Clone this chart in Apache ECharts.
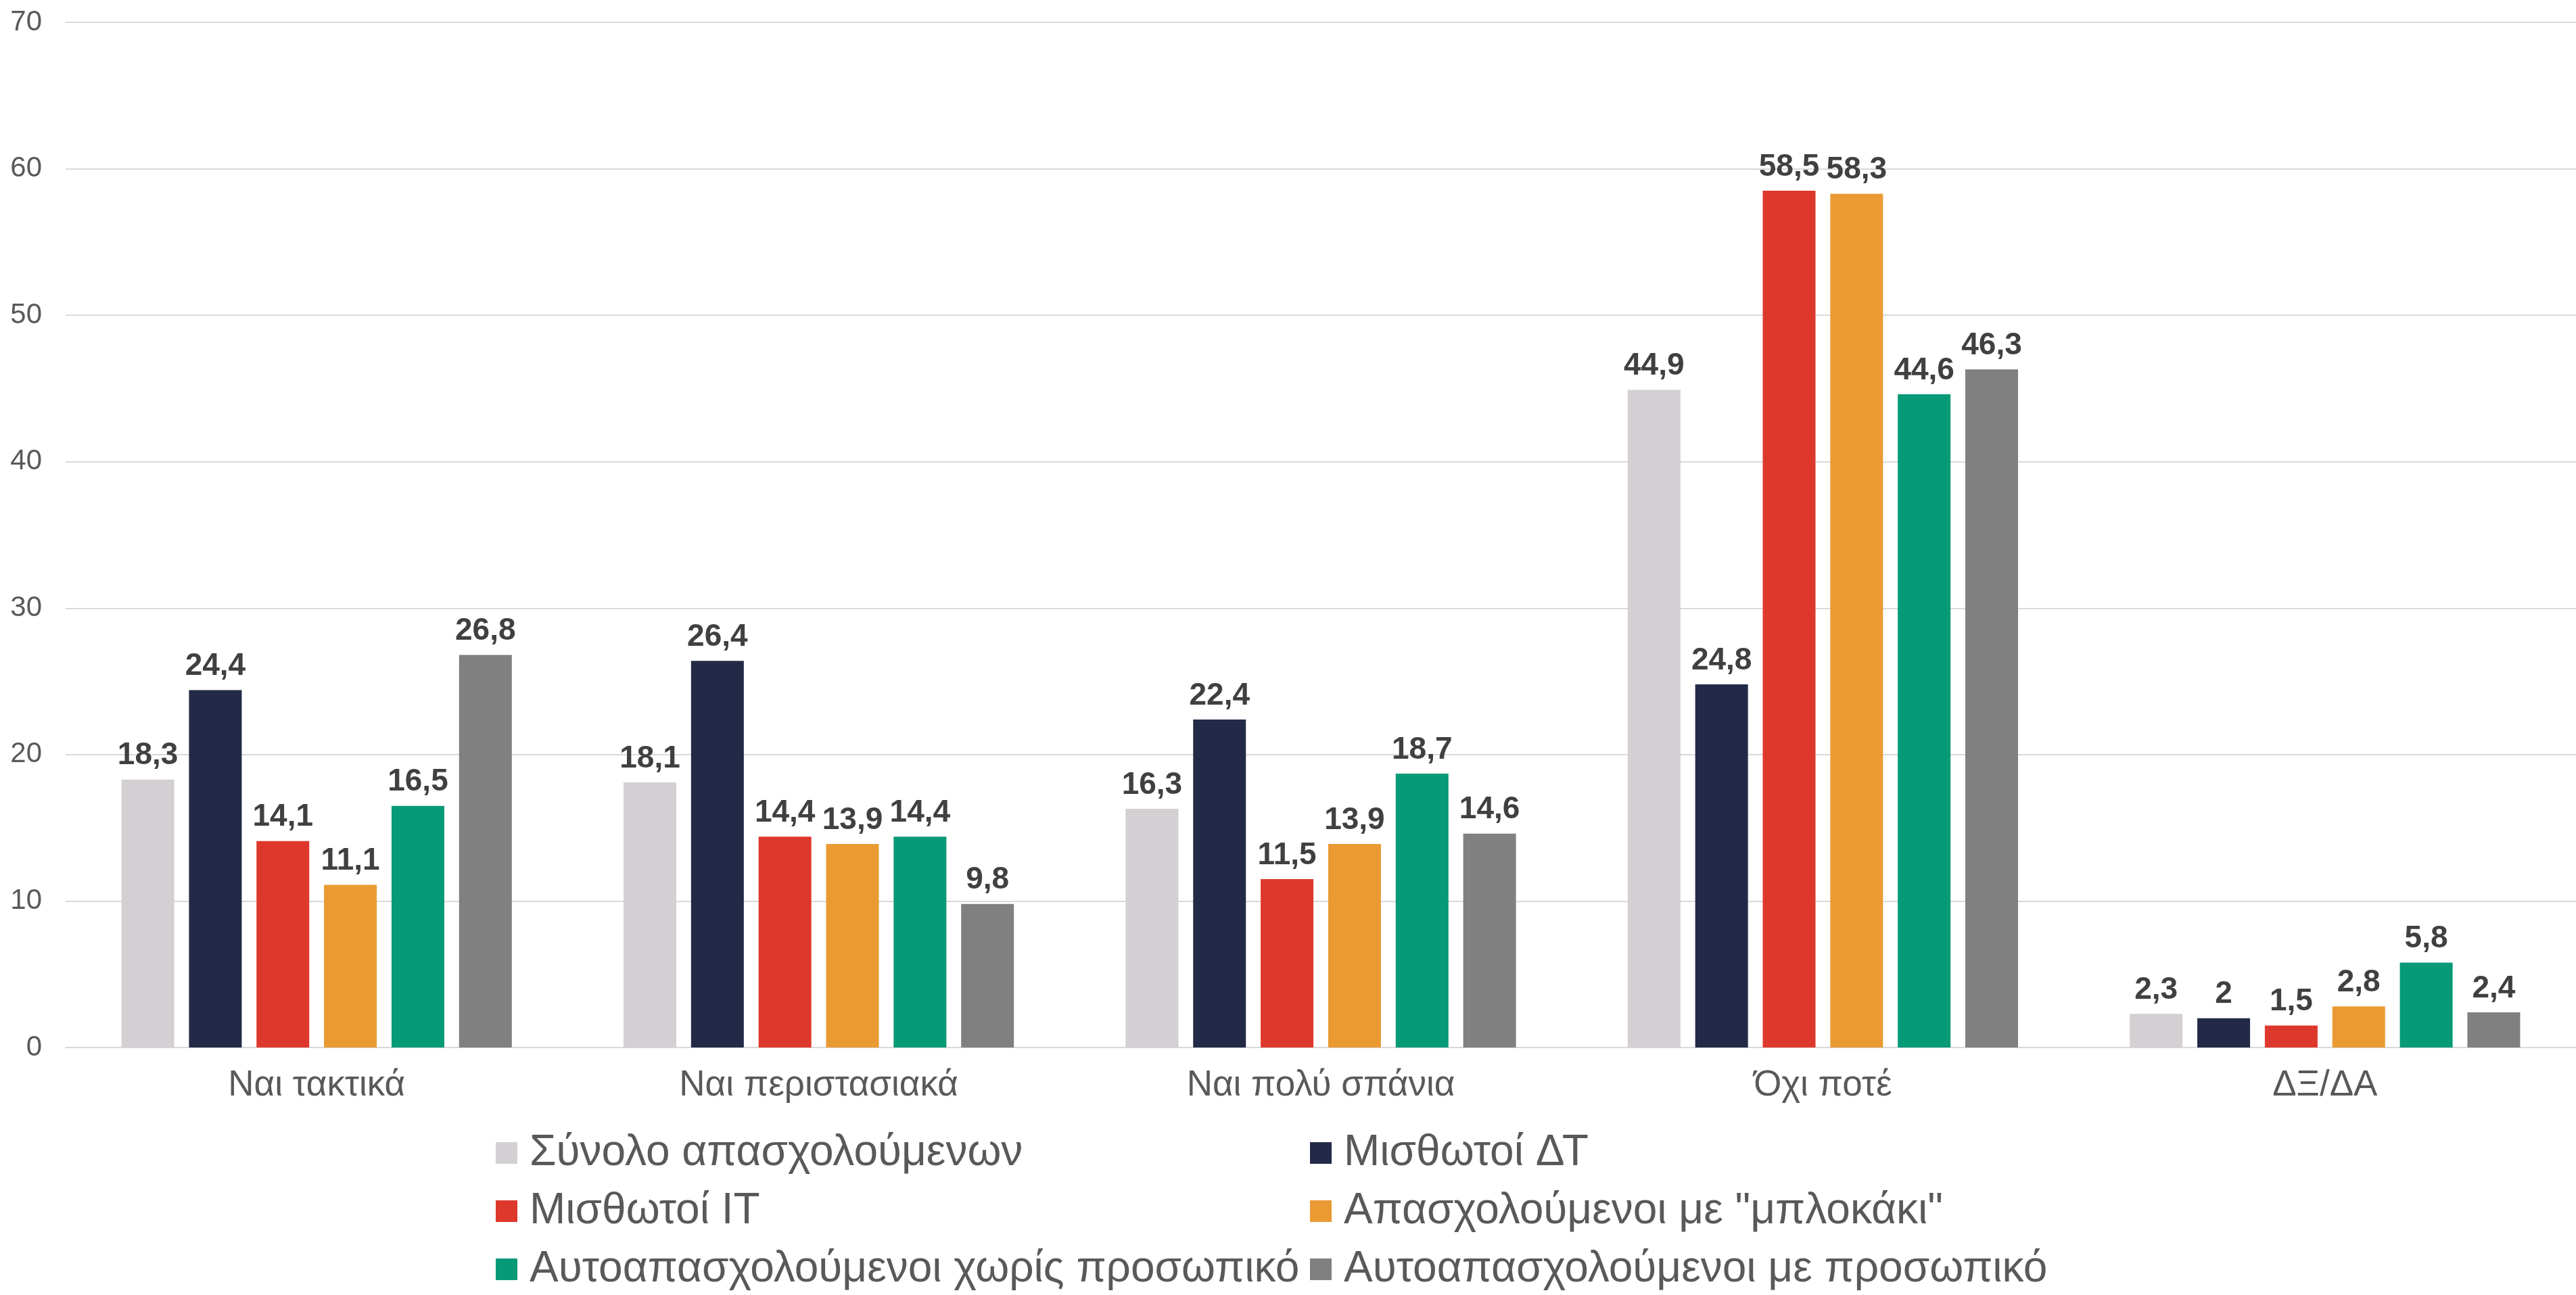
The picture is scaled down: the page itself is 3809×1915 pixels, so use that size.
<!DOCTYPE html>
<html>
<head>
<meta charset="utf-8">
<style>
  html, body { margin: 0; padding: 0; background: #fff; }
  #chart { width: 3809px; height: 1915px; }
</style>
<script src="https://cdn.jsdelivr.net/npm/echarts@6/dist/echarts.min.js"></script>
</head>
<body>
<div id="chart"></div>
<script>
var categories = ['Ναι τακτικά', 'Ναι περιστασιακά', 'Ναι πολύ σπάνια', 'Όχι ποτέ', 'ΔΞ/ΔΑ'];

var seriesNames = [
  'Σύνολο απασχολούμενων',
  'Μισθωτοί ΔΤ',
  'Μισθωτοί ΙΤ',
  'Απασχολούμενοι με "μπλοκάκι"',
  'Αυτοαπασχολούμενοι χωρίς προσωπικό',
  'Αυτοαπασχολούμενοι με προσωπικό'
];

var synolo      = [18.3, 18.1, 16.3, 44.9, 2.3];
var misthotoiDT = [24.4, 26.4, 22.4, 24.8, 2];
var misthotoiIT = [14.1, 14.4, 11.5, 58.5, 1.5];
var mplokaki    = [11.1, 13.9, 13.9, 58.3, 2.8];
var xorisPros   = [16.5, 14.4, 18.7, 44.6, 5.8];
var mePros      = [26.8, 9.8, 14.6, 46.3, 2.4];

var yTicks = [0, 10, 20, 30, 40, 50, 60, 70];

var colors = ['#d3cfd3', '#222a48', '#de382d', '#ea9a33', '#069a77', '#808080'];
var font = '"Liberation Sans", Arial, sans-serif';

var chart = echarts.init(document.getElementById('chart'));

var allValues = [synolo, misthotoiDT, misthotoiIT, mplokaki, xorisPros, mePros];
var series = [];
allValues.forEach(function(vals, i){
  series.push({
    name: seriesNames[i],
    type: 'bar',
    data: vals,
    barWidth: 78,
    barGap: '28%',
    itemStyle: { color: colors[i] },
    label: {
      show: true,
      position: 'top',
      distance: 12,
      fontFamily: font,
      fontSize: 46,
      fontWeight: 'bold',
      color: '#404040',
      formatter: function(p){ return String(p.value).replace('.', ','); }  // κόμμα δεκαδικών
    }
  });
});

function legendBlock(names, left){
  return {
    orient: 'vertical',
    left: left,
    top: 1673,
    padding: 0,
    itemWidth: 32,
    itemHeight: 32,
    itemGap: 22,
    icon: 'rect',
    selectedMode: false,
    data: names,
    textStyle: {
      fontFamily: font,
      fontSize: 64,
      color: '#595959',
      padding: [0, 0, 0, 13]
    }
  };
}

var option = {
  animation: false,
  color: colors,
  grid: { left: 97, right: 0, top: 33, bottom: 366, containLabel: false },
  legend: [
    legendBlock([seriesNames[0], seriesNames[2], seriesNames[4]], 733),
    legendBlock([seriesNames[1], seriesNames[3], seriesNames[5]], 1937)
  ],
  xAxis: {
    type: 'category',
    data: categories,
    axisTick: { show: false },
    axisLine: { lineStyle: { color: '#d9d9d9', width: 2 } },
    axisLabel: { fontFamily: font, fontSize: 53, color: '#595959', margin: 30 }
  },
  yAxis: {
    type: 'value',
    min: yTicks[0],
    max: yTicks[yTicks.length - 1],
    interval: 10,
    axisLine: { show: false },
    axisTick: { show: false },
    splitLine: { lineStyle: { color: '#d9d9d9', width: 2 } },
    axisLabel: { fontFamily: font, fontSize: 42, color: '#595959', margin: 35 }
  },
  series: series
};

chart.setOption(option);
</script>
</body>
</html>
